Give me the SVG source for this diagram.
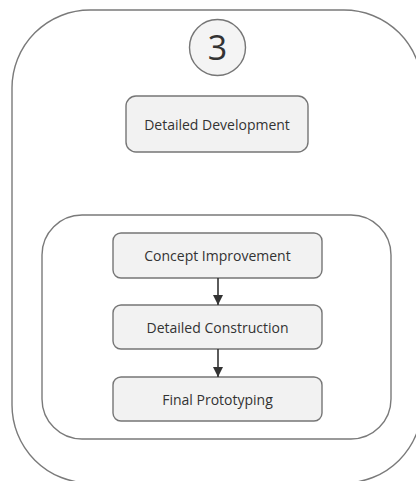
<svg xmlns="http://www.w3.org/2000/svg" width="416" height="481" viewBox="0 0 416 481">
  <style>
    .frame { fill: #ffffff; stroke: #7a7a7a; stroke-width: 1.4; }
    .box { fill: #f2f2f2; stroke: #767676; stroke-width: 1.4; }
    .label { font-family: "Open Sans", "Liberation Sans", sans-serif; font-size: 14px; fill: #333333; text-anchor: middle; dominant-baseline: central; }
    .step { font-family: "Open Sans", "Liberation Sans", sans-serif; font-size: 34px; fill: #333333; text-anchor: middle; dominant-baseline: central; }
    .edge { stroke: #333333; stroke-width: 1.6; fill: none; }
  </style>
  <defs>
    <marker id="arrow" viewBox="0 0 10 10" refX="10" refY="5" markerWidth="10" markerHeight="10" markerUnits="userSpaceOnUse" orient="auto">
      <path d="M0,0 L10,5 L0,10 Z" fill="#333333"/>
    </marker>
  </defs>

  <!-- phase container -->
  <g id="phase">
    <rect class="frame" x="12" y="10" width="410" height="473" rx="78" ry="78"/>
  </g>

  <!-- phase number badge -->
  <g id="step-number">
    <circle cx="217.5" cy="47.5" r="28" fill="#f4f4f4" stroke="#767676" stroke-width="1.4"/>
    <text class="step" x="217.5" y="47">3</text>
  </g>

  <g id="detailed-development">
    <rect class="box" x="126" y="96" width="182" height="56" rx="10" ry="10"/>
    <text class="label" x="217" y="124">Detailed Development</text>
  </g>

  <!-- sub-process container -->
  <g id="subprocess">
    <rect class="frame" x="42" y="215" width="349" height="224" rx="40" ry="40"/>
  </g>

  <g id="concept-improvement">
    <rect class="box" x="113" y="233" width="209" height="45" rx="8" ry="8"/>
    <text class="label" x="217.5" y="255.5">Concept Improvement</text>
  </g>

  <g id="detailed-construction">
    <rect class="box" x="113" y="305" width="209" height="44" rx="8" ry="8"/>
    <text class="label" x="217.5" y="327">Detailed Construction</text>
  </g>

  <g id="final-prototyping">
    <rect class="box" x="113" y="377" width="209" height="44" rx="8" ry="8"/>
    <text class="label" x="217.5" y="399">Final Prototyping</text>
  </g>

  <g id="connectors">
    <line class="edge" x1="218" y1="278" x2="218" y2="305" marker-end="url(#arrow)"/>
    <line class="edge" x1="218" y1="349" x2="218" y2="377" marker-end="url(#arrow)"/>
  </g>
</svg>
